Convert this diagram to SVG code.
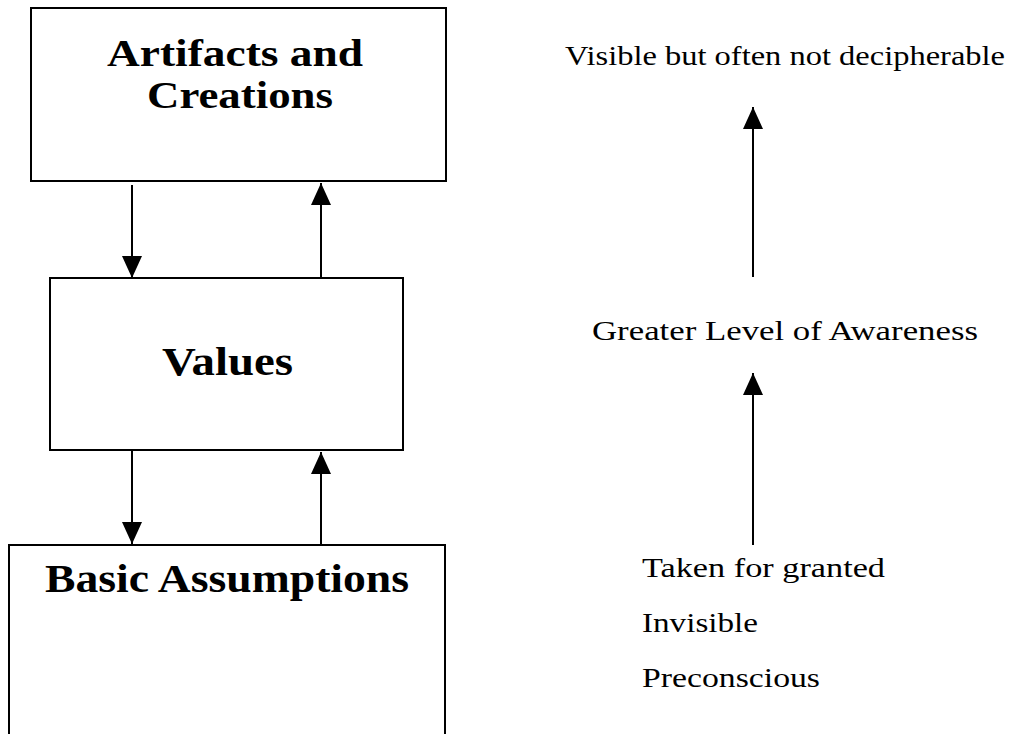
<svg xmlns="http://www.w3.org/2000/svg" width="1016" height="734" viewBox="0 0 1016 734">
<style>
.box{fill:#fff;stroke:#000;stroke-width:2}
.t{font-family:"Liberation Serif","Times New Roman",Tinos,Times,serif;font-weight:bold;font-size:40px;fill:#000}
.t1{font-size:37px}
.r{font-family:"Liberation Serif","Times New Roman",Tinos,Times,serif;font-size:28px;fill:#000}
.c{stroke:#000;stroke-width:2;fill:none}
</style>
<defs>
<marker id="ah" viewBox="0 0 22 20" refX="22" refY="10" markerWidth="22" markerHeight="20" markerUnits="userSpaceOnUse" orient="auto">
<path d="M0,0 L22,10 L0,20 Z" fill="#000"/>
</marker>
</defs>
<rect width="1016" height="734" fill="#fff"/>
<g id="artifacts">
<rect class="box" x="31" y="8" width="415" height="173"/>
<text class="t t1" x="107" y="66" textLength="256" lengthAdjust="spacingAndGlyphs">Artifacts and</text>
<text class="t t1" x="147" y="108" textLength="186" lengthAdjust="spacingAndGlyphs">Creations</text>
</g>
<g id="values">
<rect class="box" x="50" y="278" width="353" height="172"/>
<text class="t" x="162" y="375" textLength="131" lengthAdjust="spacingAndGlyphs">Values</text>
</g>
<g id="assumptions">
<rect class="box" x="9" y="545" width="436" height="200"/>
<text class="t" x="45" y="592" textLength="364" lengthAdjust="spacingAndGlyphs">Basic Assumptions</text>
</g>
<g id="labels">
<text class="r" x="565" y="65" textLength="440" lengthAdjust="spacingAndGlyphs">Visible but often not decipherable</text>
<text class="r" x="592" y="340" textLength="386" lengthAdjust="spacingAndGlyphs">Greater Level of Awareness</text>
<text class="r" x="642" y="577" textLength="243" lengthAdjust="spacingAndGlyphs">Taken for granted</text>
<text class="r" x="642" y="632" textLength="116" lengthAdjust="spacingAndGlyphs">Invisible</text>
<text class="r" x="642" y="687" textLength="178" lengthAdjust="spacingAndGlyphs">Preconscious</text>
</g>
<g id="connectors">
<line class="c" x1="132" y1="185" x2="132" y2="278" marker-end="url(#ah)"/>
<line class="c" x1="321" y1="278" x2="321" y2="183" marker-end="url(#ah)"/>
<line class="c" x1="132" y1="450" x2="132" y2="544" marker-end="url(#ah)"/>
<line class="c" x1="321" y1="545" x2="321" y2="452" marker-end="url(#ah)"/>
<line class="c" x1="753" y1="277" x2="753" y2="107" marker-end="url(#ah)"/>
<line class="c" x1="753" y1="545" x2="753" y2="373" marker-end="url(#ah)"/>
</g>
</svg>
